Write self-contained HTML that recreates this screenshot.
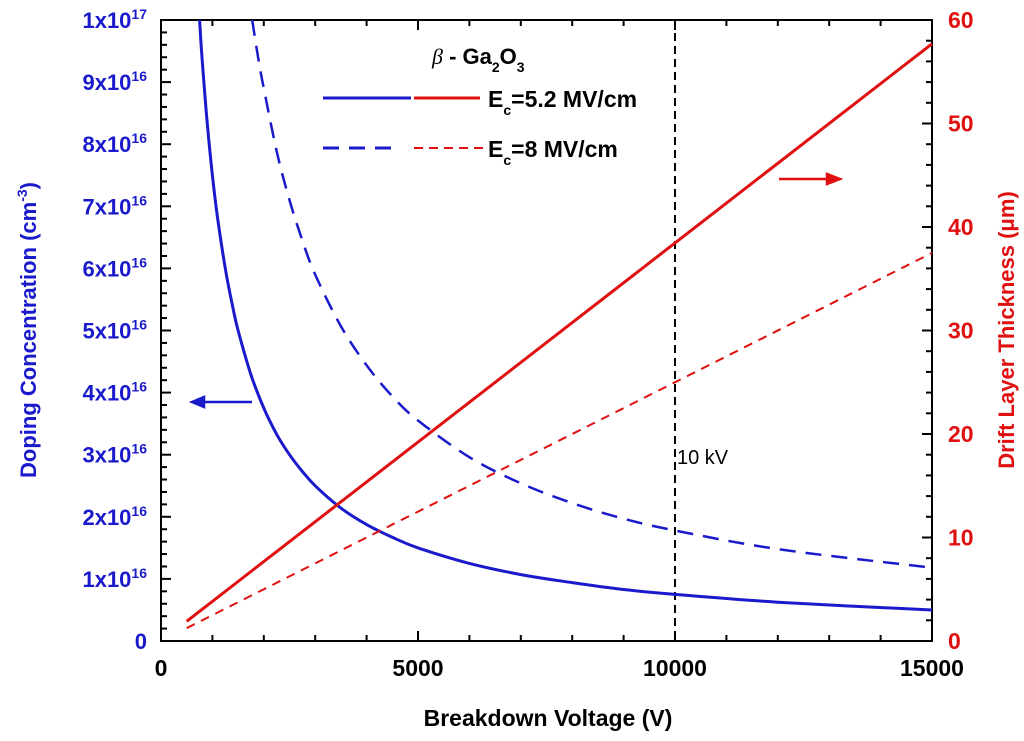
<!DOCTYPE html>
<html><head><meta charset="utf-8"><style>
body{margin:0;background:#fff}
svg{font-family:"Liberation Sans",Arial,sans-serif;font-weight:bold}
</style></head><body>
<svg id="c" width="1024" height="736" viewBox="0 0 1024 736">
<g id="g"></g>
</svg>
<script>
const voltSolidN=[750,800,900,1000,1100,1250,1400,1500,1750,2000,2250,2500,2750,3000,3500,4000,4500,5000,6000,7000,8000,9000,10000,12000,15000];
const dopSolid=[10,9.375,8.33,7.5,6.82,6.0,5.36,5.0,4.29,3.75,3.33,3.0,2.73,2.5,2.14,1.875,1.67,1.5,1.25,1.07,0.94,0.83,0.75,0.625,0.5];
const voltDashN=[1775,1900,2000,2250,2500,2750,3000,3500,4000,4500,5000,6000,7000,8000,9000,10000,12000,15000];
const dopDash=[10,9.34,8.9,7.89,7.1,6.45,5.9,5.07,4.44,3.94,3.55,2.96,2.54,2.22,1.97,1.78,1.48,1.18];
const voltW=[500,15000];
const thickSolid=[1.9,57.7];
const thickDash=[1.25,37.5];
const xTicks=[0,5000,10000,15000];
const leftTicks=[0,1,2,3,4,5,6,7,8,9,10];
const rightTicks=[0,10,20,30,40,50,60];

const L=161,R=932,T=20,B=641;
const X=v=>L+(v-0)/15000*(R-L);
const YL=v=>B-v/10*(B-T);
const YR=v=>B-v/60*(B-T);
const g=document.getElementById('g');
const NS='http://www.w3.org/2000/svg';
function el(t,a,txt){const e=document.createElementNS(NS,t);for(const k in a)e.setAttribute(k,a[k]);if(txt!==undefined)e.textContent=txt;g.appendChild(e);return e;}

let e;
e=el('rect',{x:L,y:T,width:R-L,height:B-T,fill:'none',stroke:'#000','stroke-width':2});


for(let v=0;v<=15000;v+=1000){const maj=v%5000===0,len=maj?10:6;
 e=el('line',{x1:X(v),x2:X(v),y1:B,y2:B-len,stroke:'#000','stroke-width':2});
 
 e=el('line',{x1:X(v),x2:X(v),y1:T,y2:T+len,stroke:'#000','stroke-width':2});
 }
xTicks.forEach(v=>{e=el('text',{x:X(v),y:B+35,'text-anchor':'middle','font-size':23,fill:'#000'},String(v));
 });
for(let i=0;i<=50;i++){const v=i/5,maj=i%5===0,len=maj?10:6;
 e=el('line',{x1:L,x2:L+len,y1:YL(v),y2:YL(v),stroke:'#000','stroke-width':2});
 }
leftTicks.forEach(v=>{
 e=el('text',{x:L-14,y:YL(v)+8,'text-anchor':'end','font-size':22,fill:'#1a1acc'});
 
 if(v===0){e.textContent='0';}
 else{const m=v===10?1:v,p=v===10?17:16;
  const t1=document.createElementNS(NS,'tspan');t1.textContent=m+'x10';e.appendChild(t1);
  const t2=document.createElementNS(NS,'tspan');t2.setAttribute('dy',-9);t2.setAttribute('font-size',14);t2.textContent=p;e.appendChild(t2);}
});
for(let v=0;v<=60;v+=2){const maj=v%10===0,len=maj?10:6;
 e=el('line',{x1:R,x2:R-len,y1:YR(v),y2:YR(v),stroke:'#000','stroke-width':2});
 }
rightTicks.forEach(v=>{e=el('text',{x:R+16,y:YR(v)+8,'font-size':23,fill:'#e01010'},String(v));
 });
e=el('text',{x:548,y:726,'text-anchor':'middle','font-size':23,fill:'#000'},'Breakdown Voltage (V)');

e=el('text',{transform:'translate(36,330) rotate(-90)','text-anchor':'middle','font-size':22,fill:'#1a1acc'});
e.innerHTML='Doping Concentration (cm<tspan dy="-9" font-size="14">-3</tspan><tspan dy="9">)</tspan>';

e=el('text',{transform:'translate(1014,330) rotate(-90)','text-anchor':'middle','font-size':22,fill:'#e01010'},'Drift Layer Thickness (\u03bcm)');

e=el('line',{x1:X(10000),x2:X(10000),y1:T,y2:B,stroke:'#000','stroke-width':2,'stroke-dasharray':'8,5'});

e=el('text',{x:X(10000)+2,y:464,'font-size':20,'font-weight':'normal',fill:'#000'},'10 kV');

function path(xs,ys,f){
 const p=xs.map((v,i)=>[X(v),f(ys[i])]);
 let d='M'+p[0][0].toFixed(1)+','+p[0][1].toFixed(1);
 for(let i=0;i<p.length-1;i++){
  const p0=p[i-1]||p[i],p1=p[i],p2=p[i+1],p3=p[i+2]||p2;
  const c1=[p1[0]+(p2[0]-p0[0])/6,p1[1]+(p2[1]-p0[1])/6];
  const c2=[p2[0]-(p3[0]-p1[0])/6,p2[1]-(p3[1]-p1[1])/6];
  d+='C'+c1.map(n=>n.toFixed(1))+' '+c2.map(n=>n.toFixed(1))+' '+p2.map(n=>n.toFixed(1));
 }
 return d;}
e=el('path',{d:path(voltSolidN,dopSolid,YL),fill:'none',stroke:'#1a1acc','stroke-width':3});

e=el('path',{d:path(voltDashN,dopDash,YL),fill:'none',stroke:'#1a1acc','stroke-width':2.5,'stroke-dasharray':'16,10'});

e=el('path',{d:path(voltW,thickSolid,YR),fill:'none',stroke:'#e01010','stroke-width':3});

e=el('path',{d:path(voltW,thickDash,YR),fill:'none',stroke:'#e01010','stroke-width':2,'stroke-dasharray':'9,7'});

e=el('path',{d:'M252,402 H192 M192,402 l12,-5 v10 z',stroke:'#1a1acc','stroke-width':2.5,fill:'#1a1acc'});

e=el('path',{d:'M779,179 H838 M840,179 l-13,-5 v10 z',stroke:'#e01010','stroke-width':2.5,fill:'#e01010'});

e=el('text',{x:432,y:64,'font-size':22,fill:'#000'});
e.innerHTML='<tspan font-style="italic" font-family="Liberation Serif, serif" font-weight="normal">\u03b2</tspan> - Ga<tspan dy="8" font-size="14">2</tspan><tspan dy="-8">O</tspan><tspan dy="8" font-size="14">3</tspan>';

e=el('line',{x1:323,x2:411,y1:98,y2:98,stroke:'#1a1acc','stroke-width':3});

e=el('line',{x1:414,x2:480,y1:98,y2:98,stroke:'#e01010','stroke-width':3});

e=el('line',{x1:323,x2:400,y1:148,y2:148,stroke:'#1a1acc','stroke-width':3,'stroke-dasharray':'16,10'});

e=el('line',{x1:414,x2:484,y1:148,y2:148,stroke:'#e01010','stroke-width':2,'stroke-dasharray':'9,6'});

e=el('text',{x:488,y:107,'font-size':23,fill:'#000'});
e.innerHTML='E<tspan dy="8" font-size="14">c</tspan><tspan dy="-8">=5.2 MV/cm</tspan>';

e=el('text',{x:488,y:157,'font-size':23,fill:'#000'});
e.innerHTML='E<tspan dy="8" font-size="14">c</tspan><tspan dy="-8">=8 MV/cm</tspan>';

</script>
</body></html>
